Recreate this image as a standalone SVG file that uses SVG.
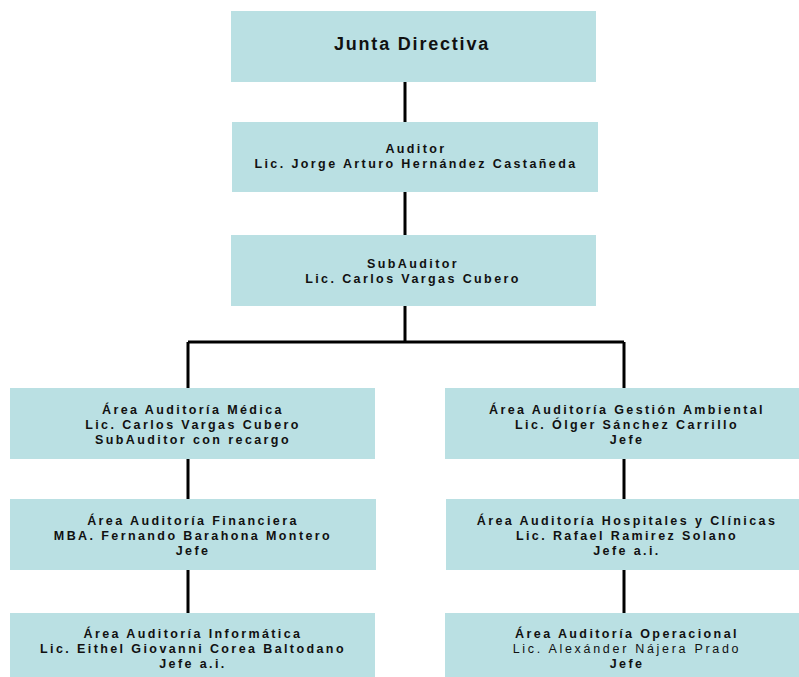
<svg xmlns="http://www.w3.org/2000/svg" width="799" height="677" viewBox="0 0 799 677">
<style>
.box{fill:#bae0e3}
.t{font-family:"Liberation Sans",Arial,sans-serif;font-size:12.5px;font-weight:bold;fill:#111;text-anchor:middle;letter-spacing:2.4px}
.n{font-weight:normal;letter-spacing:2.7px}
.big{font-size:18px;letter-spacing:1.8px}
.c{stroke:#000;stroke-width:3;fill:none}
</style>
<rect width="799" height="677" fill="#fff"/>
<g id="connectors">
<path class="c" d="M405 82V122M405 192V235M405 306V342M188 342H624M188 342V388M624 342V388M188 459V499M188 570V613M624 459V499M624 570V613"/>
</g>
<g id="junta"><rect class="box" x="231" y="11" width="365" height="71"/><text class="t big" x="412" y="50">Junta Directiva</text></g>
<g id="auditor"><rect class="box" x="232" y="122" width="366" height="70"/><text class="t" x="416" y="153">Auditor</text><text class="t" x="416" y="168">Lic. Jorge Arturo Hernández Castañeda</text></g>
<g id="subauditor"><rect class="box" x="231" y="235" width="365" height="71"/><text class="t" x="413" y="268">SubAuditor</text><text class="t" x="413" y="283">Lic. Carlos Vargas Cubero</text></g>
<g id="medica"><rect class="box" x="10" y="388" width="365" height="71"/><text class="t" x="193" y="414">Área Auditoría Médica</text><text class="t" x="193" y="429">Lic. Carlos Vargas Cubero</text><text class="t" x="193" y="444">SubAuditor con recargo</text></g>
<g id="financiera"><rect class="box" x="10" y="499" width="366" height="71"/><text class="t" x="193" y="525">Área Auditoría Financiera</text><text class="t" x="193" y="540">MBA. Fernando Barahona Montero</text><text class="t" x="193" y="555">Jefe</text></g>
<g id="informatica"><rect class="box" x="10" y="613" width="365" height="70"/><text class="t" x="193" y="638">Área Auditoría Informática</text><text class="t" x="193" y="653">Lic. Eithel Giovanni Corea Baltodano</text><text class="t" x="193" y="668">Jefe a.i.</text></g>
<g id="ambiental"><rect class="box" x="445" y="388" width="365" height="71"/><text class="t" x="627" y="414">Área Auditoría Gestión Ambiental</text><text class="t" x="627" y="429">Lic. Ólger Sánchez Carrillo</text><text class="t" x="627" y="444">Jefe</text></g>
<g id="hospitales"><rect class="box" x="446" y="499" width="365" height="71"/><text class="t" x="627" y="525">Área Auditoría Hospitales y Clínicas</text><text class="t" x="627" y="540">Lic. Rafael Ramirez Solano</text><text class="t" x="627" y="555">Jefe a.i.</text></g>
<g id="operacional"><rect class="box" x="445" y="613" width="365" height="70"/><text class="t" x="627" y="638">Área Auditoría Operacional</text><text class="t n" x="627" y="653">Lic. Alexánder Nájera Prado</text><text class="t" x="627" y="668">Jefe</text></g>
</svg>
